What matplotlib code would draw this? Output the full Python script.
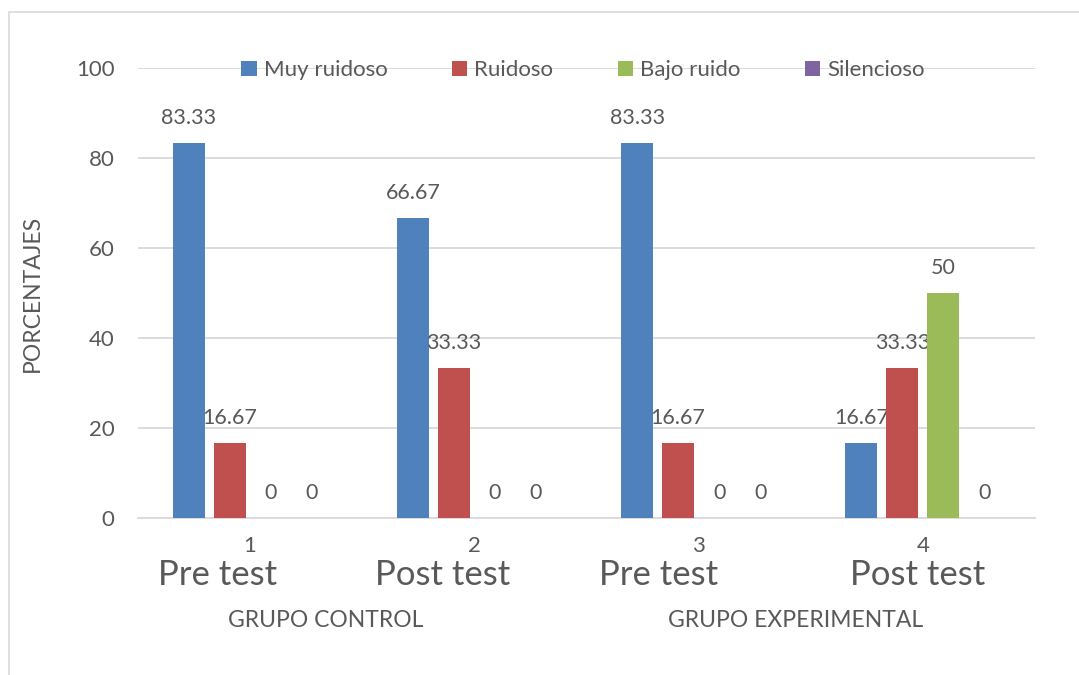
import numpy as np
import matplotlib.pyplot as plt
from matplotlib.patches import Rectangle

plt.rcParams['font.family'] = ['Lato', 'DejaVu Sans']

# data
categories = ["1", "2", "3", "4"]
test_labels = ["Pre test", "Post test", "Pre test", "Post test"]
group_labels = ["GRUPO CONTROL", "GRUPO EXPERIMENTAL"]
series_names = ["Muy ruidoso", "Ruidoso", "Bajo ruido", "Silencioso"]
muy_ruidoso = [83.33, 66.67, 83.33, 16.67]
ruidoso = [16.67, 33.33, 16.67, 33.33]
bajo_ruido = [0, 0, 0, 50]
silencioso = [0, 0, 0, 0]
label_texts = [
    ["83.33", "66.67", "83.33", "16.67"],
    ["16.67", "33.33", "16.67", "33.33"],
    ["0", "0", "0", "50"],
    ["0", "0", "0", "0"],
]

colors = ["#4F81BD", "#C0504D", "#9BBB59", "#8064A2"]
txt = "#595959"
grid_c = "#D9D9D9"

fig = plt.figure(figsize=(10.79, 6.75), dpi=100)
ax = fig.add_axes([138/1079, 1-518/675, 897/1079, 450/675])

x = np.arange(len(categories))
step = 0.183
width = 0.143
all_series = [muy_ruidoso, ruidoso, bajo_ruido, silencioso]
for i, (vals, name, col) in enumerate(zip(all_series, series_names, colors)):
    pos = x + (i - 1.5) * step
    ax.bar(pos, vals, width, color=col, label=name, zorder=3)
    for px, v, t in zip(pos, vals, label_texts[i]):
        ax.annotate(t, (px, v), xytext=(0, 18), textcoords="offset points",
                    ha="center", va="center", fontsize=15.5, color=txt)

ax.set_xlim(-0.5, 3.5)
ax.set_ylim(0, 100)
ax.set_yticks(np.arange(0, 101, 20))
ax.yaxis.grid(True, color=grid_c, linewidth=1.3, zorder=0)
ax.set_axisbelow(True)
for s in ["top", "right", "left"]:
    ax.spines[s].set_visible(False)
ax.spines["bottom"].set_color(grid_c)
ax.spines["bottom"].set_linewidth(1.3)
ax.tick_params(axis="both", length=0, labelsize=16, labelcolor=txt)
ax.tick_params(axis="y", pad=17)
ax.tick_params(axis="x", pad=13)
ax.set_xticks(x)
ax.set_xticklabels(categories)
ax.set_ylabel("PORCENTAJES", fontsize=16.5, color=txt, labelpad=24)

# second level of category labels
test_x = [-0.147, 0.857, 1.821, 2.978]
for tx, t in zip(test_x, test_labels):
    ax.text(tx, -12.6, t, ha="center", va="center", fontsize=25, color=txt,
            clip_on=False)
group_x = [0.339, 2.433]
for gx, g in zip(group_x, group_labels):
    ax.text(gx, -22.7, g, ha="center", va="center", fontsize=16.5, color=txt,
            clip_on=False)

leg = ax.legend(loc="center", bbox_to_anchor=(0.496, 0.995), ncol=4,
                frameon=False, fontsize=16, handlelength=0.7, handleheight=0.7,
                handletextpad=0.3, columnspacing=2.9, labelcolor=txt)

# chart frame
fig.add_artist(Rectangle((9/1079, -0.05), 1.2, 1.05 - 12/675,
                         transform=fig.transFigure, fill=False,
                         edgecolor=grid_c, linewidth=1.2))

fig.savefig("out.png", dpi=100)
